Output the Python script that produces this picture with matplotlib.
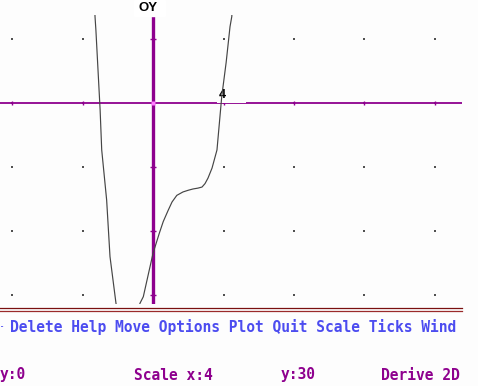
import numpy as np
import matplotlib
matplotlib.use("Agg")
import matplotlib.pyplot as plt
from matplotlib.patches import Rectangle

# curve points (x units, y units)
curve_x = [-3.32, -3.29, -3.24, -3.0, -2.91, -2.63, -2.44, -2.10, -1.85, -1.45,
           -1.05, -0.74, -0.55, 0.0, 0.36, 0.58, 0.85, 1.08, 1.35, 1.70,
           2.0, 2.27, 2.55, 2.78, 2.95, 3.12, 3.35, 3.63, 3.9, 4.15, 4.37,
           4.47, 4.52]
curve_y = [48, 40.5, 34.2, -3.3, -22, -45.5, -72, -93.9, -105, -112,
           -106, -93.9, -90.8, -70.5, -61, -55.6, -50.5, -46.4, -43.3, -41.7,
           -40.9, -40.3, -39.9, -39.4, -37.8, -35.2, -30.5, -22, 3, 19,
           35.8, 40.5, 48]

# grid dot positions (scale x:4, y:30)
grid_x = [-8, -4, 0, 4, 8, 12, 16]
grid_y = [30, 0, -30, -60, -90]

menu_text = "Delete Help Move Options Plot Quit Scale Ticks Wind"
status_items = [("y:0", 0), ("Scale x:4", 134), ("y:30", 281), ("Derive 2D", 381)]

W, H = 478, 386
purple = "#8e008e"
mono = ["DejaVu Sans Mono"]

fig = plt.figure(figsize=(W / 100, H / 100), dpi=100)
fig.patch.set_facecolor("#fdfdfd")

def fx(px):
    return px / W

def fy(py):
    return 1 - py / H

ax = fig.add_axes([0, fy(304), fx(462), (304 - 15) / H])
ax.set_facecolor("#fdfdfd")
ax.set_xlim(-8.681, 17.532)
ax.set_ylim(-94.22, 41.25)
ax.axis("off")

# dotted grid
gx, gy = np.meshgrid(grid_x, grid_y)
ax.scatter(gx.ravel(), gy.ravel(), s=1.5, marker="s", color="#505050",
           linewidths=0, zorder=1)

# axes
ax.axhline(0, color=purple, lw=1.3, zorder=2)
ax.axvline(0, color=purple, lw=2.4, zorder=2)
ax.plot([0], [0], marker="s", ms=2.5, color="#ff7cff", mec="none", zorder=3)
# ticks on the axes
ax.scatter([v for v in grid_x if v != 0], [0] * 6, marker="|", s=12,
           color=purple, linewidths=1, zorder=3)
ax.scatter([0] * 4, [v for v in grid_y if v != 0], marker="_", s=20,
           color=purple, linewidths=1, zorder=3)

ax.plot(curve_x, curve_y, color="#454545", lw=0.85, zorder=6)

# tick label "4" with its white box
ax.text(3.74, 0.9, "4     ", fontsize=9, fontweight="bold",
        family="Liberation Sans", ha="left", va="bottom", zorder=5,
        bbox=dict(facecolor="#fdfdfd", edgecolor="none", pad=1.5))

# OY label
fig.add_artist(Rectangle((fx(134), fy(16)), 31 / W, 16 / H,
                         transform=fig.transFigure, color="white", zorder=5))
fig.text(fx(148), fy(8), "OY", fontsize=9.5, fontweight="bold",
         family="Liberation Sans", ha="center", va="center", zorder=6)

# double separator line
for py, c in [(308.3, "#7a1010"), (311.2, "#9a2a2a")]:
    fig.add_artist(plt.Line2D([0, fx(462)], [fy(py), fy(py)],
                              transform=fig.transFigure, color=c, lw=0.9))

fig.text(fx(0), fy(327), "-", fontsize=5, fontweight="bold",
         family=mono, color="#4c4cf0", ha="left", va="center")
fig.text(fx(10), fy(327), menu_text, fontsize=10.5, fontweight="bold",
         family=mono, color="#4c4cf0", ha="left", va="center")

for txt, px in status_items:
    fig.text(fx(px), fy(375), txt, fontsize=10.5, fontweight="bold",
             family=mono, color=purple, ha="left", va="center")

fig.savefig("out.png", dpi=100, facecolor=fig.get_facecolor())
